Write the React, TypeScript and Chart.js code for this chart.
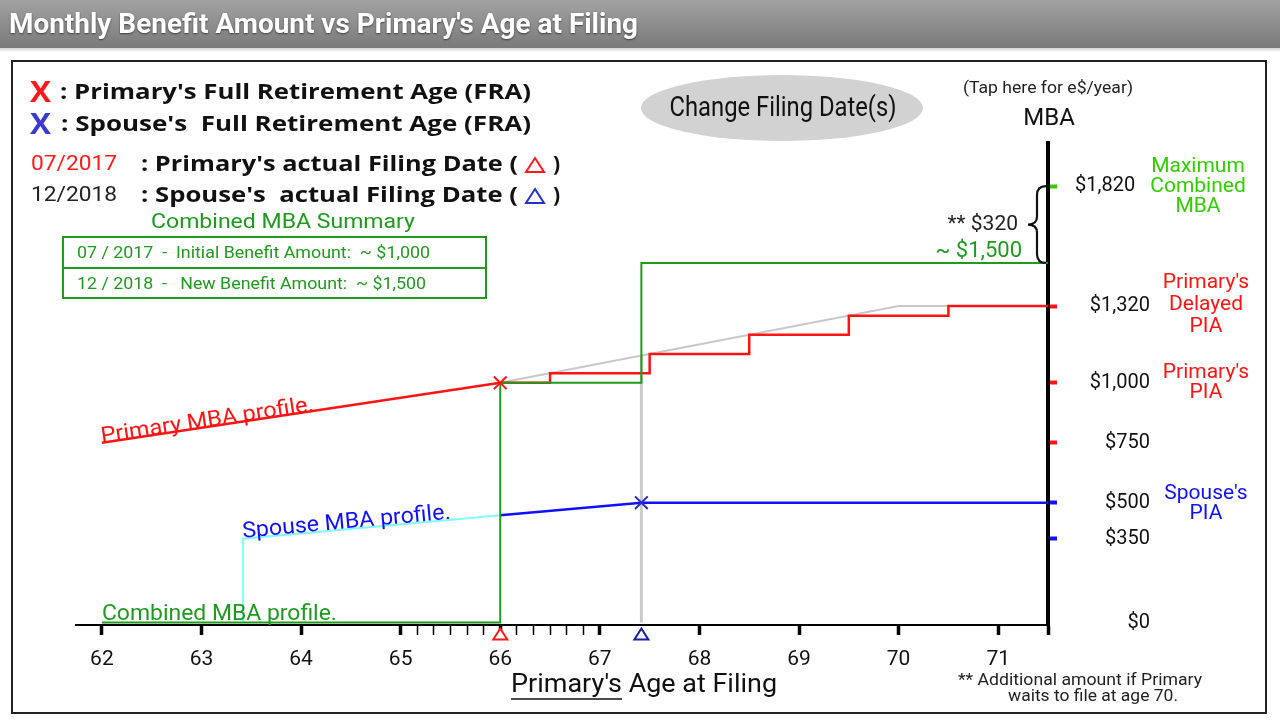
import React, { useEffect, useRef } from 'react';
import { Chart, registerables } from 'chart.js';

Chart.register(...registerables);

// ---------------- data ----------------
const xTickAges = [62, 63, 64, 65, 66, 67, 68, 69, 70, 71];
const minorTickAges = [65.167, 65.333, 65.5, 65.667, 65.833, 66.167, 66.333, 66.5, 66.667, 66.833];
const axisStartAge = 61.74;
const axisEndAge = 71.5;
const yTickValues = [0, 350, 500, 750, 1000, 1320, 1820];

const primaryEarlyAges = [62, 66];
const primaryEarlyMBA = [750, 1000];
const primaryDelayedAges = [66, 66.5, 67.5, 68.5, 69.5, 70.5, 71.5];
const primaryDelayedMBA = [1000, 1040, 1120, 1200, 1280, 1320, 1320];
const primaryCreditAges = [66, 70, 71.5];
const primaryCreditMBA = [1000, 1320, 1320];
const spouseEarlyAges = [63.417, 63.417, 66];
const spouseEarlyMBA = [0, 350, 448];
const spouseAges = [66, 67.417, 71.5];
const spouseMBA = [448, 500, 500];
const combinedAges = [62, 66, 67.417, 71.5];
const combinedMBA = [0, 1000, 1500, 1500];
const spouseGuideAges = [67.417, 67.417];
const spouseGuideMBA = [1113, 0];
const fraAges = [66, 67.417];
const fraMBA = [1000, 500];
const primaryFilingAge = 66;
const spouseFilingAge = 67.417;
const maxCombinedMBA = 1820;
const currentCombinedMBA = 1500;

const toPts = (xs: number[], ys: number[]) => xs.map((x, i) => ({ x, y: ys[i] }));

// ---------------- colours ----------------
const RED = '#ff1414';
const BLUE = '#1010ff';
const GREEN = '#1f9a1f';
const BRIGHT_GREEN = '#33cc00';

function drawFit(
  ctx: CanvasRenderingContext2D,
  text: string,
  x: number,
  y: number,
  font: string,
  color: string,
  width?: number,
  align: 'left' | 'center' | 'right' = 'left',
  baseline: CanvasTextBaseline = 'middle'
) {
  ctx.save();
  ctx.font = font;
  ctx.fillStyle = color;
  ctx.textBaseline = baseline;
  ctx.textAlign = 'left';
  const w = ctx.measureText(text).width;
  const s = width ? width / w : 1;
  let x0 = x;
  if (align === 'center') x0 = x - (w * s) / 2;
  else if (align === 'right') x0 = x - w * s;
  ctx.translate(x0, y);
  ctx.scale(s, 1);
  ctx.fillText(text, 0, 0);
  ctx.restore();
  return x0 + w * s;
}

function triangle(ctx: CanvasRenderingContext2D, cx: number, cy: number, w: number, h: number, color: string) {
  ctx.save();
  ctx.beginPath();
  ctx.moveTo(cx, cy - h / 2);
  ctx.lineTo(cx + w / 2, cy + h / 2);
  ctx.lineTo(cx - w / 2, cy + h / 2);
  ctx.closePath();
  ctx.fillStyle = '#fff';
  ctx.fill();
  ctx.strokeStyle = color;
  ctx.lineWidth = 2;
  ctx.stroke();
  ctx.restore();
}

const decor = {
  id: 'decor',
  beforeDraw(chart: any) {
    const ctx: CanvasRenderingContext2D = chart.ctx;
    ctx.save();
    ctx.fillStyle = '#fff';
    ctx.fillRect(0, 0, chart.width, chart.height);
    const g = ctx.createLinearGradient(0, 0, 0, 48);
    g.addColorStop(0, '#a2a2a2');
    g.addColorStop(1, '#7a7a7a');
    ctx.fillStyle = g;
    ctx.fillRect(0, 0, chart.width, 48);
    const sh = ctx.createLinearGradient(0, 48, 0, 52);
    sh.addColorStop(0, 'rgba(0,0,0,0.18)');
    sh.addColorStop(1, 'rgba(0,0,0,0)');
    ctx.fillStyle = sh;
    ctx.fillRect(0, 48, chart.width, 4);
    ctx.strokeStyle = '#222';
    ctx.lineWidth = 2;
    ctx.strokeRect(12, 61, 1254, 652);
    ctx.fillStyle = '#d2d2d2';
    ctx.beginPath();
    ctx.ellipse(782, 108, 141, 33, 0, 0, Math.PI * 2);
    ctx.fill();
    ctx.restore();
  },
  afterDraw(chart: any) {
    const ctx: CanvasRenderingContext2D = chart.ctx;
    const xs = chart.scales.x;
    const ys = chart.scales.y;
    const px = (v: number) => xs.getPixelForValue(v);
    const py = (v: number) => ys.getPixelForValue(v);

    // title
    ctx.save();
    ctx.shadowColor = 'rgba(0,0,0,0.55)';
    ctx.shadowOffsetY = 1;
    ctx.shadowBlur = 2;
    drawFit(ctx, "Monthly Benefit Amount vs Primary's Age at Filing", 9, 26, 'bold 28px Roboto', '#fff', 629);
    ctx.restore();

    // legend
    drawFit(ctx, 'X', 30, 94, 'bold 28px "Open Sans"', '#ff1a1a', 21);
    drawFit(ctx, ": Primary's Full Retirement Age (FRA)", 60, 93, 'bold 21px "Open Sans"', '#111', 471);
    drawFit(ctx, 'X', 30, 126, 'bold 28px "Open Sans"', '#3a3acc', 21);
    drawFit(ctx, ": Spouse's  Full Retirement Age (FRA)", 61, 125, 'bold 21px "Open Sans"', '#111', 470);

    drawFit(ctx, '07/2017', 31, 165, '21px Roboto', '#ff1a1a', 86);
    drawFit(ctx, ": Primary's actual Filing Date (", 141, 165, 'bold 21px "Open Sans"', '#111', 377);
    triangle(ctx, 535, 165, 18, 14, '#ff1a1a');
    drawFit(ctx, ')', 553, 165, 'bold 21px "Open Sans"', '#111');
    drawFit(ctx, '12/2018', 31, 196, '21px Roboto', '#222', 86);
    drawFit(ctx, ": Spouse's  actual Filing Date (", 141, 196, 'bold 21px "Open Sans"', '#111', 377);
    triangle(ctx, 535, 196, 18, 14, '#2233cc');
    drawFit(ctx, ')', 553, 196, 'bold 21px "Open Sans"', '#111');

    drawFit(ctx, 'Combined MBA Summary', 283, 223, '21px Roboto', GREEN, 264, 'center');
    ctx.save();
    ctx.strokeStyle = GREEN;
    ctx.lineWidth = 2;
    ctx.strokeRect(63, 237, 423, 61);
    ctx.beginPath();
    ctx.moveTo(63, 268);
    ctx.lineTo(486, 268);
    ctx.stroke();
    ctx.restore();
    drawFit(ctx, '07 / 2017  -  Initial Benefit Amount:  ~ $1,000', 77, 254, '16px Roboto', GREEN, 353);
    drawFit(ctx, '12 / 2018  -   New Benefit Amount:  ~ $1,500', 77, 285, '16px Roboto', GREEN, 349);

    // button
    drawFit(ctx, 'Change Filing Date(s)', 783, 109, '28px Roboto', '#111', 227, 'center');

    // right header
    drawFit(ctx, '(Tap here for e$/year)', 1048, 89, '16px Roboto', '#222', 170, 'center');
    drawFit(ctx, 'MBA', 1049, 119, '24px Roboto', '#111', undefined, 'center');

    // brace
    const top = py(maxCombinedMBA);
    const bot = py(currentCombinedMBA);
    const mid = (top + bot) / 2;
    const xr = chart.chartArea.right - 2;
    const xm = xr - 9;
    const xl = xr - 18;
    ctx.save();
    ctx.strokeStyle = '#111';
    ctx.lineWidth = 2.2;
    ctx.beginPath();
    ctx.moveTo(xr, top);
    ctx.quadraticCurveTo(xm, top, xm, top + 9);
    ctx.lineTo(xm, mid - 8);
    ctx.quadraticCurveTo(xm, mid, xl, mid);
    ctx.quadraticCurveTo(xm, mid, xm, mid + 8);
    ctx.lineTo(xm, bot - 9);
    ctx.quadraticCurveTo(xm, bot, xr, bot);
    ctx.stroke();
    ctx.restore();
    drawFit(ctx, '** $320', 1018, mid, '21px Roboto', '#222', undefined, 'right');
    drawFit(ctx, '~ $1,500', 1022, bot - 11, '22px Roboto', GREEN, undefined, 'right');

    // right annotations
    const ann = (t: string, y: number, c: string, x = 1206) => drawFit(ctx, t, x, y, '21px Roboto', c, undefined, 'center');
    ann('Maximum', 167, BRIGHT_GREEN, 1198);
    ann('Combined', 187, BRIGHT_GREEN, 1198);
    ann('MBA', 207, BRIGHT_GREEN, 1198);
    ann("Primary's", 283, RED);
    ann('Delayed', 305, RED);
    ann('PIA', 327, RED);
    ann("Primary's", 373, RED);
    ann('PIA', 393, RED);
    ann("Spouse's", 494, BLUE);
    ann('PIA', 514, BLUE);

    // footnote
    drawFit(ctx, '** Additional amount if Primary', 1080, 681, '16px Roboto', '#222', 244, 'center');
    drawFit(ctx, 'waits to file at age 70.', 1093, 697, '16px Roboto', '#222', 170, 'center');

    // axis title
    const end1 = drawFit(ctx, "Primary's", 511, 686, '25px Roboto', '#111', 111);
    drawFit(ctx, ' Age at Filing', end1, 686, '25px Roboto', '#111', 155);
    ctx.save();
    ctx.strokeStyle = '#111';
    ctx.lineWidth = 1.5;
    ctx.beginPath();
    ctx.moveTo(511, 699);
    ctx.lineTo(end1, 699);
    ctx.stroke();
    ctx.restore();

    // filing-date triangles on the x axis
    triangle(ctx, px(primaryFilingAge), chart.chartArea.bottom + 9, 14, 11, '#ff1a1a');
    triangle(ctx, px(spouseFilingAge), chart.chartArea.bottom + 9, 14, 11, '#1a1aaa');

    // profile labels along lines
    const along = (t: string, ax: number, ay: number, bx: number, by: number, c: string, w: number, dy: number) => {
      const x0 = px(ax), y0 = py(ay), x1 = px(bx), y1 = py(by);
      const a = Math.atan2(y1 - y0, x1 - x0);
      ctx.save();
      ctx.translate(x0, y0);
      ctx.rotate(a);
      drawFit(ctx, t, 0, dy, '22px Roboto', c, w, 'left', 'alphabetic');
      ctx.restore();
    };
    along('Primary MBA profile.', primaryEarlyAges[0], primaryEarlyMBA[0], primaryEarlyAges[1], primaryEarlyMBA[1], RED, 215, 0);
    along('Spouse MBA profile.', spouseEarlyAges[1], spouseEarlyMBA[1], spouseEarlyAges[2], spouseEarlyMBA[2], BLUE, 209, -1);
    drawFit(ctx, 'Combined MBA profile.', px(combinedAges[0]), py(combinedMBA[0]) - 3, '22px Roboto', GREEN, 235, 'left', 'alphabetic');
  },
};

const yTickMarkColor = (v: number) =>
  v === 1820 ? BRIGHT_GREEN : v >= 750 ? RED : v > 0 ? BLUE : 'rgba(0,0,0,0)';

export default function App() {
  const ref = useRef<HTMLCanvasElement>(null);
  useEffect(() => {
    document.body.style.margin = '0';
    Chart.defaults.font.family = 'Roboto';
    const chart = new Chart(ref.current as HTMLCanvasElement, {
      type: 'line',
      data: {
        datasets: [
          {
            label: 'FRA',
            data: toPts(fraAges, fraMBA),
            showLine: false,
            pointStyle: 'crossRot',
            pointRadius: 9,
            pointBorderColor: [RED, '#2a2ad0'],
            pointBorderWidth: 2,
            order: 0,
          },
          {
            label: 'Combined MBA profile',
            data: toPts(combinedAges, combinedMBA),
            stepped: 'before',
            borderColor: GREEN,
            borderWidth: 2,
            pointRadius: 0,
            order: 1,
          },
          {
            label: 'Spouse MBA profile',
            data: toPts(spouseAges, spouseMBA),
            borderColor: BLUE,
            borderWidth: 2.5,
            pointRadius: 0,
            order: 2,
          },
          {
            label: 'Spouse early',
            data: toPts(spouseEarlyAges, spouseEarlyMBA),
            borderColor: '#80ffff',
            borderWidth: 2,
            pointRadius: 0,
            order: 3,
          },
          {
            label: 'Primary MBA profile',
            data: toPts(primaryEarlyAges, primaryEarlyMBA),
            borderColor: RED,
            borderWidth: 2.5,
            pointRadius: 0,
            order: 4,
          },
          {
            label: 'Primary delayed',
            data: toPts(primaryDelayedAges, primaryDelayedMBA),
            stepped: 'before',
            borderColor: RED,
            borderWidth: 2.5,
            pointRadius: 0,
            order: 5,
          },
          {
            label: 'Delayed credits',
            data: toPts(primaryCreditAges, primaryCreditMBA),
            borderColor: '#c8c8c8',
            borderWidth: 2,
            pointRadius: 0,
            order: 6,
          },
          {
            label: 'Spouse filing guide',
            data: toPts(spouseGuideAges, spouseGuideMBA),
            borderColor: '#cccccc',
            borderWidth: 3,
            pointRadius: 0,
            order: 7,
          },
        ],
      },
      options: {
        animation: false,
        responsive: false,
        devicePixelRatio: 1,
        events: [],
        layout: { padding: { left: 76, top: 143, right: 130, bottom: 0 } },
        plugins: {
          legend: { display: false },
          tooltip: { enabled: false },
        },
        scales: {
          x: {
            type: 'linear',
            position: 'bottom',
            min: axisStartAge,
            max: axisEndAge,
            afterBuildTicks: (s: any) => {
              s.ticks = [...xTickAges, ...minorTickAges, axisEndAge]
                .sort((a, b) => a - b)
                .map((v) => ({ value: v }));
            },
            afterFit: (s: any) => {
              s.height = 95;
            },
            ticks: {
              autoSkip: false,
              maxRotation: 0,
              padding: 12,
              color: '#111',
              font: { size: 21, family: 'Roboto' },
              callback: (v: any) => (xTickAges.includes(Number(v)) ? String(v) : ''),
            },
            grid: {
              drawOnChartArea: false,
              drawTicks: true,
              tickLength: 10,
              tickColor: '#000',
              tickWidth: (c: any) =>
                xTickAges.includes(c.tick?.value) || c.tick?.value === axisEndAge ? 3.5 : 1.5,
            },
            border: { display: true, color: '#000', width: 2 },
          },
          y: {
            type: 'linear',
            position: 'right',
            min: -10,
            max: 2000,
            afterBuildTicks: (s: any) => {
              s.ticks = yTickValues.map((v) => ({ value: v }));
            },
            afterFit: (s: any) => {
              s.width = 102;
            },
            ticks: {
              crossAlign: 'far',
              padding: 18,
              color: '#111',
              font: { size: 20, family: 'Roboto' },
              callback: (v: any) =>
                '$' + Number(v).toLocaleString('en-US') + (Number(v) === 1820 ? '   ' : ''),
            },
            grid: {
              drawOnChartArea: false,
              drawTicks: true,
              tickLength: 9,
              tickWidth: 4,
              tickColor: (c: any) => yTickMarkColor(c.tick?.value),
            },
            border: { display: true, color: '#000', width: 4 },
          },
        },
      },
      plugins: [decor],
    } as any);
    return () => chart.destroy();
  }, []);
  return (
    <div style={{ position: 'fixed', left: 0, top: 0, width: 1280, height: 720, background: '#fff' }}>
      <canvas ref={ref} width={1280} height={720} style={{ display: 'block', width: 1280, height: 720 }} />
    </div>
  );
}
